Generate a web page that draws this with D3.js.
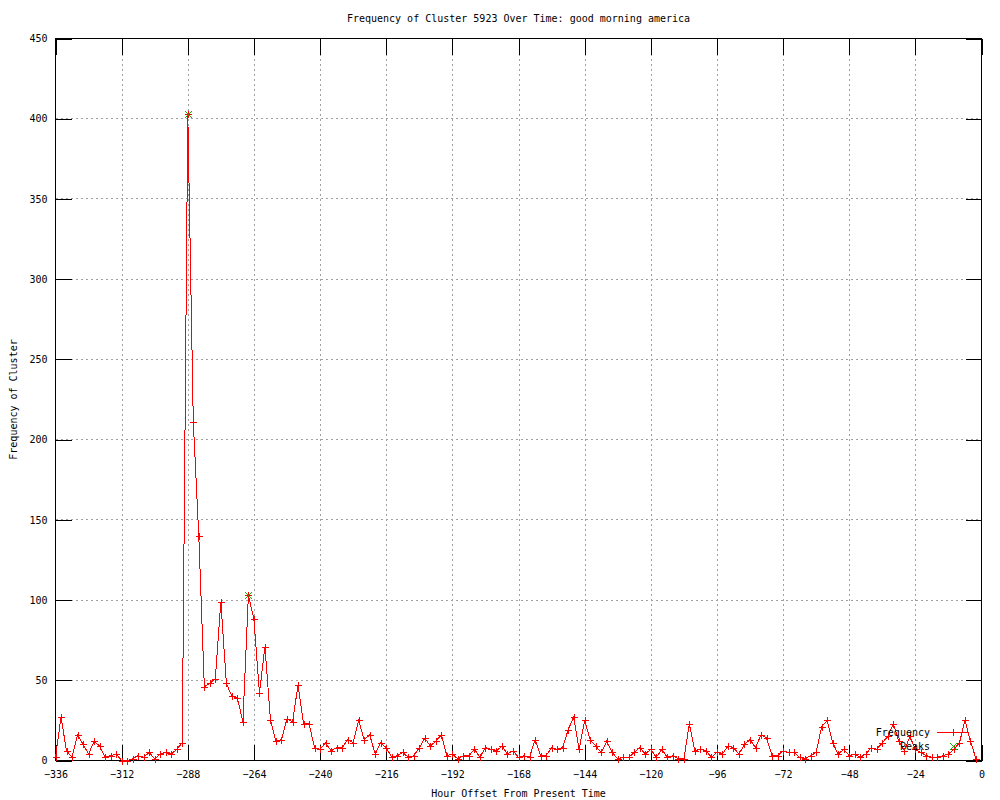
<!DOCTYPE html>
<html>
<head>
<meta charset="utf-8">
<script src="https://cdn.jsdelivr.net/npm/d3@7"></script>
<style>
  html, body { margin: 0; padding: 0; background: #fff; }
  svg { display: block; }
  text { font-family: "DejaVu Sans Mono", "Liberation Mono", monospace; font-size: 10px; fill: #000; }
</style>
</head>
<body>
<svg id="chart" width="1000" height="800"></svg>
<script>
// ---- data ----
const hourStart = -336;   // first sample hour
const hourStep = 2;       // sampling interval (hours)
const frequency = [
  2, 27, 6, 2, 16, 10, 4, 12, 9, 2, 3, 4,
  0, 0, 1, 3, 2, 5, 1, 4, 5, 4, 7, 11,
  403, 211, 140, 46, 48, 51, 99, 48, 40, 39, 24, 103,
  88, 42, 71, 25, 12, 13, 26, 24, 47, 23, 23, 8,
  7, 11, 6, 8, 8, 13, 11, 25, 13, 16, 4, 11,
  8, 2, 3, 5, 2, 3, 8, 14, 9, 12, 16, 3,
  4, 1, 3, 3, 7, 2, 8, 7, 6, 9, 4, 6,
  2, 3, 2, 13, 3, 3, 8, 7, 8, 19, 27, 7,
  25, 13, 9, 5, 12, 5, 1, 2, 2, 5, 8, 4,
  7, 2, 7, 2, 3, 1, 1, 23, 6, 7, 6, 2,
  5, 4, 9, 8, 4, 10, 13, 8, 16, 14, 3, 3,
  6, 5, 5, 2, 1, 3, 5, 21, 25, 11, 4, 7,
  3, 4, 2, 4, 8, 7, 11, 15, 23, 12, 6, 15,
  7, 5, 3, 2, 2, 3, 4, 7, 11, 25, 12, 1
];
const peakHours = [-288, -266];
const peakValues = [403, 103];
const xTicks = [-336, -312, -288, -264, -240, -216, -192, -168, -144, -120, -96, -72, -48, -24, 0];
const yTicks = [0, 50, 100, 150, 200, 250, 300, 350, 400, 450];
const titleText = "Frequency of Cluster 5923 Over Time: good morning america";
const xLabel = "Hour Offset From Present Time";
const yLabel = "Frequency of Cluster";
const legendNames = ["Frequency", "Peaks"];

// ---- layout ----
const L = 55.5, R = 981.5, T = 38.5, B = 760.5;
const red = "#ff0000", green = "#00c000", gridCol = "#a0a0a0";
const svg = d3.select("#chart");

const x = d3.scaleLinear().domain([-336, 0]).range([L, R]);
const y = d3.scaleLinear().domain([0, 450]).range([B, T]);

const freqData = frequency.map((v, i) => ({ h: hourStart + i * hourStep, v }));
const peakData = peakHours.map((h, i) => ({ h, v: peakValues[i] }));

// grid
const grid = svg.append("g").attr("shape-rendering", "crispEdges");
grid.selectAll(".gx").data(xTicks.filter(t => t > -336 && t < 0)).enter().append("line")
  .attr("x1", d => Math.round(x(d)) + 0.5).attr("x2", d => Math.round(x(d)) + 0.5)
  .attr("y1", T).attr("y2", B)
  .attr("stroke", gridCol).attr("stroke-dasharray", "2,3");
grid.selectAll(".gy").data(yTicks.filter(t => t > 0 && t < 450)).enter().append("line")
  .attr("y1", d => Math.round(y(d) - 0.5) + 0.5).attr("y2", d => Math.round(y(d) - 0.5) + 0.5)
  .attr("x1", L).attr("x2", R)
  .attr("stroke", gridCol).attr("stroke-dasharray", "2,3");

// axes via d3 axis (ticks inside, mirrored)
const tickLen = 16;
function styleAxis(g) {
  g.attr("shape-rendering", "crispEdges");
  g.select(".domain").remove();
  g.selectAll(".tick line").attr("stroke", "#000");
}
const xAxisB = svg.append("g").attr("transform", `translate(0,${B})`)
  .call(d3.axisBottom(x).tickValues(xTicks).tickSizeInner(-tickLen).tickSizeOuter(0).tickPadding(8).tickFormat(d3.format("d")));
styleAxis(xAxisB);
xAxisB.selectAll(".tick text").attr("font-family", null).attr("font-size", null).attr("dy", "0.9em");
const xAxisT = svg.append("g").attr("transform", `translate(0,${T})`)
  .call(d3.axisTop(x).tickValues(xTicks).tickSizeInner(-tickLen).tickSizeOuter(0).tickFormat(""));
styleAxis(xAxisT);
const yAxisL = svg.append("g").attr("transform", `translate(${L},0)`)
  .call(d3.axisLeft(y).tickValues(yTicks).tickSizeInner(-tickLen).tickSizeOuter(0).tickPadding(8).tickFormat(d3.format("d")));
styleAxis(yAxisL);
yAxisL.selectAll(".tick text").attr("font-family", null).attr("font-size", null);
const yAxisR = svg.append("g").attr("transform", `translate(${R},0)`)
  .call(d3.axisRight(y).tickValues(yTicks).tickSizeInner(-tickLen).tickSizeOuter(0).tickFormat(""));
styleAxis(yAxisR);

// border
svg.append("rect").attr("x", L).attr("y", T).attr("width", R - L).attr("height", B - T)
  .attr("fill", "none").attr("stroke", "#000").attr("shape-rendering", "crispEdges");

// line
const line = d3.line().x(d => x(d.h)).y(d => y(d.v));
svg.append("path").datum(freqData).attr("d", line)
  .attr("fill", "none").attr("stroke", red).attr("stroke-width", 1).attr("shape-rendering", "crispEdges");

// plus markers
const ps = 3.5;
const plusPath = (cx, cy) => `M${cx - ps},${cy}H${cx + ps}M${cx},${cy - ps}V${cy + ps}`;
const crossPath = (cx, cy) => `M${cx - ps},${cy - ps}L${cx + ps},${cy + ps}M${cx - ps},${cy + ps}L${cx + ps},${cy - ps}`;
svg.append("g").selectAll("path").data(freqData).enter().append("path")
  .attr("d", d => plusPath(Math.round(x(d.h)) + 0.5, Math.round(y(d.v)) + 0.5))
  .attr("stroke", red).attr("fill", "none").attr("shape-rendering", "crispEdges");

// peaks
svg.append("g").selectAll("path").data(peakData).enter().append("path")
  .attr("d", d => crossPath(Math.round(x(d.h)) + 0.5, Math.round(y(d.v)) + 0.5))
  .attr("stroke", green).attr("fill", "none").attr("shape-rendering", "crispEdges");

// legend
const lg = svg.append("g");
lg.append("text").attr("x", 930).attr("y", 736).attr("text-anchor", "end").text(legendNames[0]);
lg.append("line").attr("x1", 937).attr("x2", 969).attr("y1", 732.5).attr("y2", 732.5)
  .attr("stroke", red).attr("shape-rendering", "crispEdges");
lg.append("path").attr("d", plusPath(953.5, 732.5)).attr("stroke", red).attr("shape-rendering", "crispEdges");
lg.append("text").attr("x", 930).attr("y", 750).attr("text-anchor", "end").text(legendNames[1]);
lg.append("path").attr("d", crossPath(953.5, 746.5)).attr("stroke", green).attr("shape-rendering", "crispEdges");

// titles
svg.append("text").attr("x", (L + R) / 2).attr("y", 22).attr("text-anchor", "middle").text(titleText);
svg.append("text").attr("x", (L + R) / 2).attr("y", 797).attr("text-anchor", "middle").text(xLabel);
svg.append("text").attr("transform", `translate(17,${(T + B) / 2}) rotate(-90)`).attr("text-anchor", "middle").text(yLabel);
</script>
</body>
</html>
